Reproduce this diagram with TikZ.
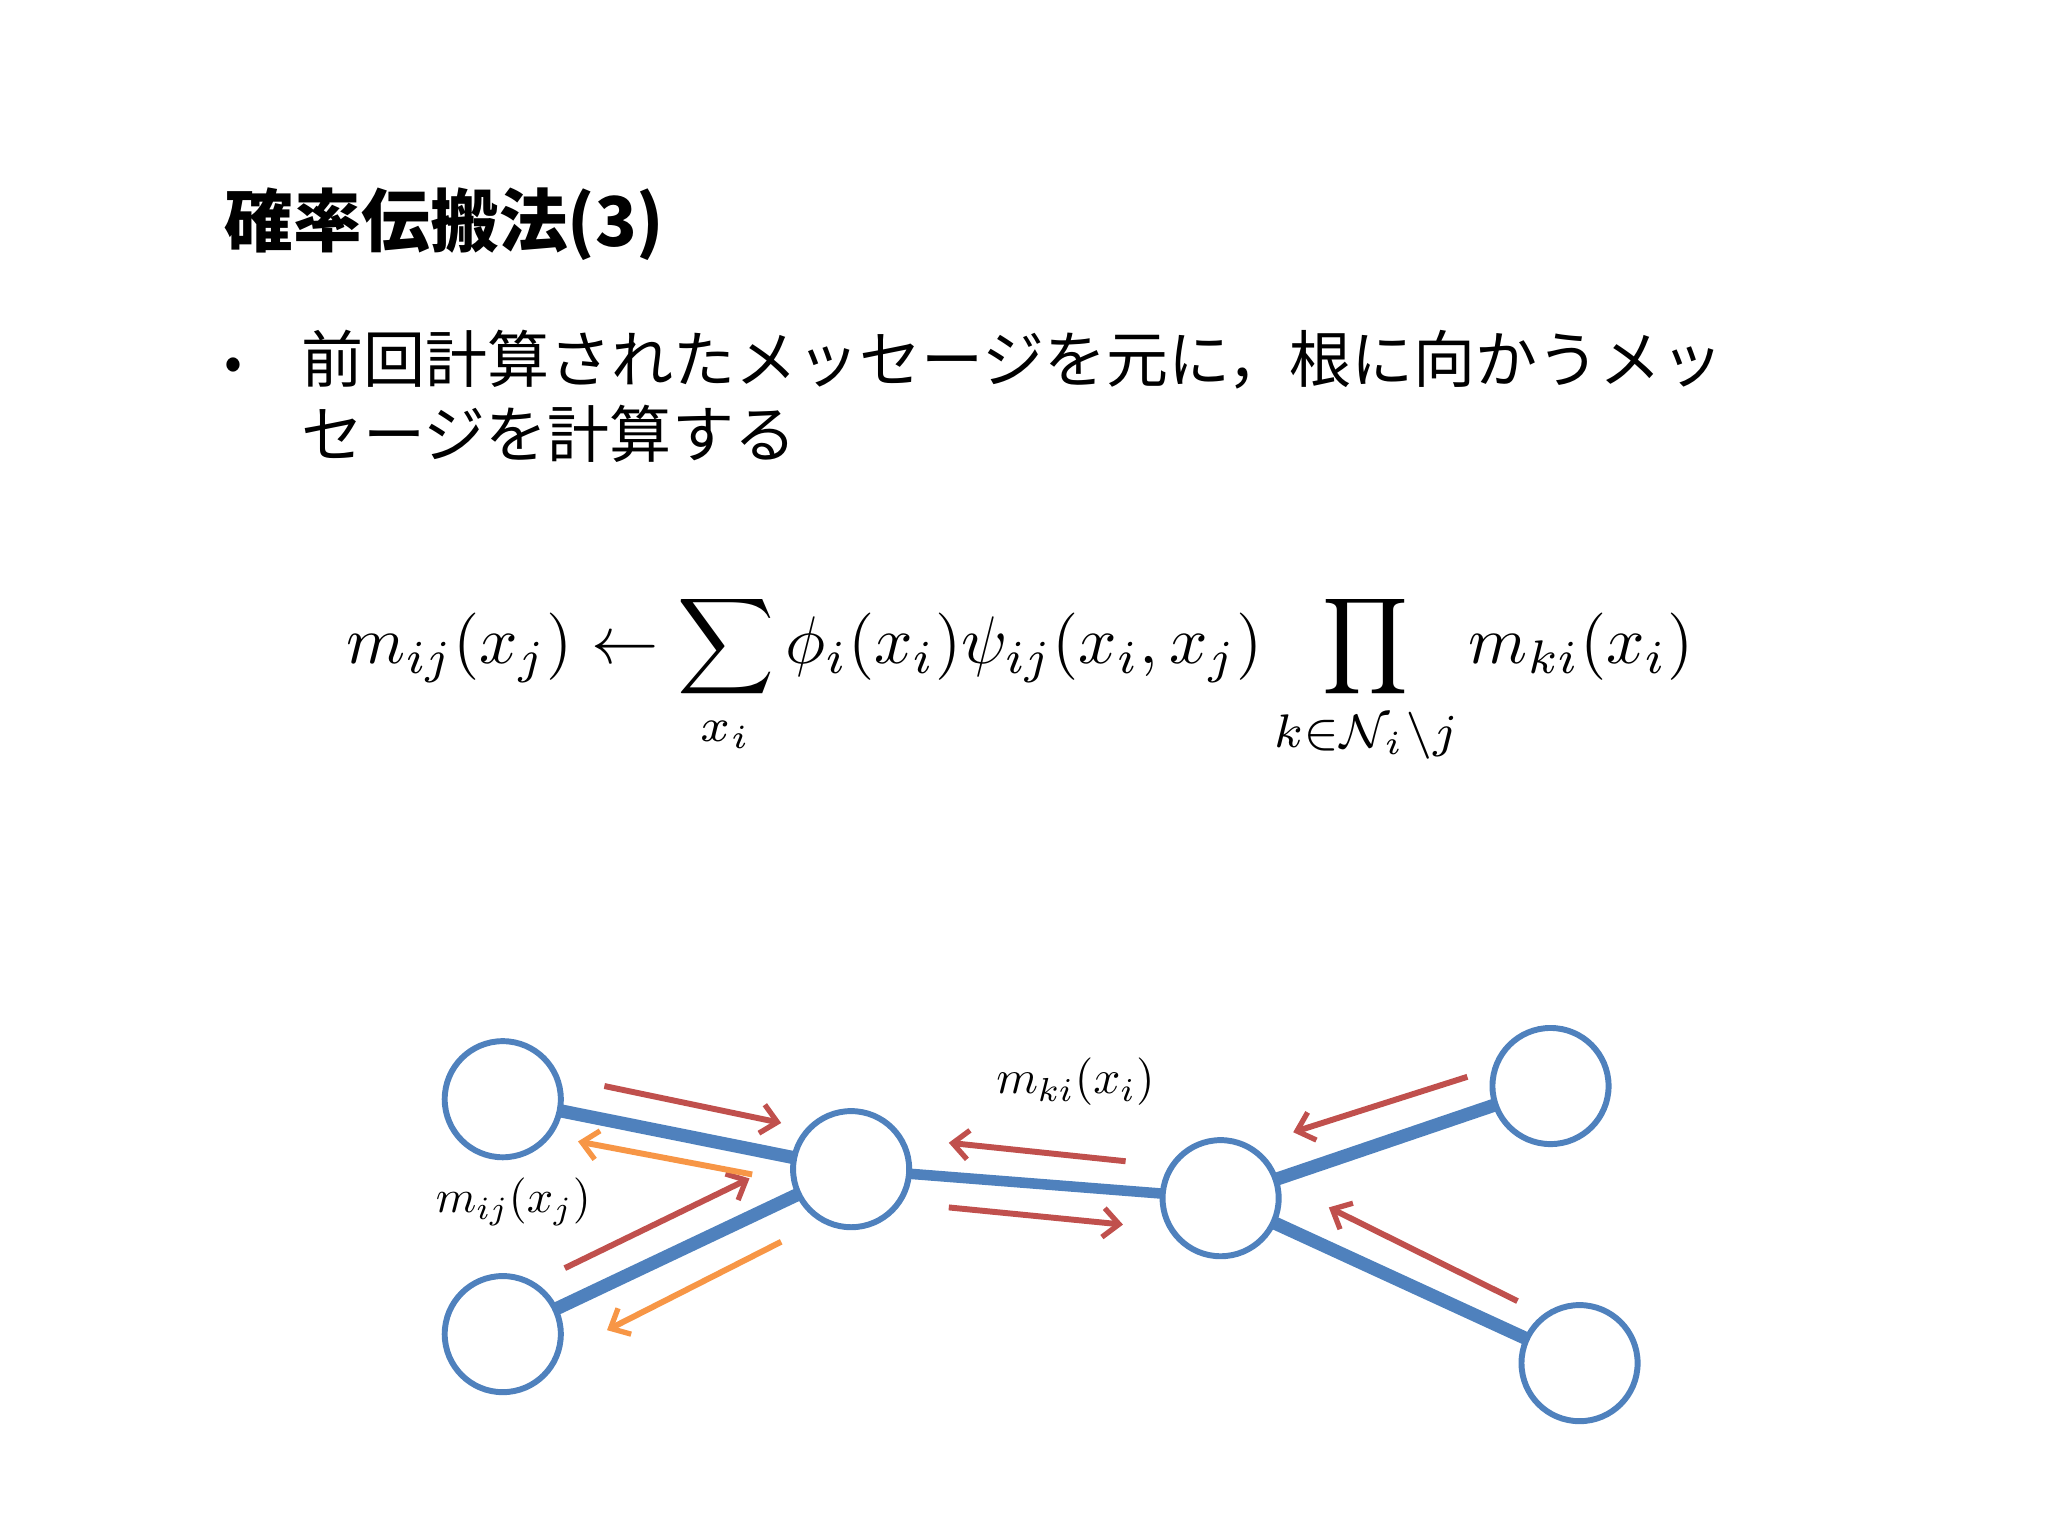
\documentclass[tikz,border=0pt]{standalone}
\usepackage{fontspec}
\usepackage{graphicx}
\newfontfamily\cjk{Noto Sans CJK JP}
\usetikzlibrary{arrows.meta}
\definecolor{nblue}{RGB}{79,129,189}
\definecolor{nred}{RGB}{192,80,77}
\definecolor{norange}{RGB}{247,150,70}
\begin{document}
\begin{tikzpicture}[x=1pt,y=-1pt,
  vert/.style={circle,draw=nblue,line width=4.5pt,fill=white,minimum size=88pt,inner sep=0pt},
  edge/.style={nblue,line width=10pt},
  msg/.style={line width=4.5pt,-{Straight Barb[length=12pt,width=22pt,line width=4pt]}},
  red/.style={msg,nred},
  org/.style={msg,norange}]
\useasboundingbox (0,0) rectangle (1552,1164);
\node[anchor=west,inner sep=0pt] (title) at (170,170) {\fontsize{52}{62}\selectfont\cjk\bfseries 確率伝搬法(3)};
\node[anchor=west,inner sep=0pt] (bul) at (170,280) {\fontsize{40}{48}\selectfont\cjk •};
\node[anchor=north west,inner sep=0pt,align=left,font={\fontsize{47}{57}\selectfont\cjk}] (txt) at (228,250) {前回計算されたメッセージを元に，根に向かうメッ\\セージを計算する};
\node (eq) at (773,515) {\scalebox{5.1}{$\displaystyle m_{ij}(x_j)\leftarrow\sum_{x_i}\phi_i(x_i)\psi_{ij}(x_i,x_j)\prod_{k\in\mathcal{N}_i\backslash j} m_{ki}(x_i)$}};
\begin{scope}[shift={(-5,-7)}]
\coordinate (a) at (386,840); \coordinate (b) at (386,1018); \coordinate (c) at (650,893);
\coordinate (d) at (930,915); \coordinate (e) at (1180,830); \coordinate (f) at (1202,1040);
\draw[edge] (a) -- (c); \draw[edge] (b) -- (c); \draw[edge,line width=8pt] (c) -- (d);
\draw[edge] (d) -- (e); \draw[edge] (d) -- (f);
\foreach \n in {a,b,c,d,e,f} \node[vert] (N\n) at (\n) {};
\coordinate (r1s) at (463,830); \coordinate (r1e) at (597,858);
\coordinate (r2s) at (433,968); \coordinate (r2e) at (573,900);
\coordinate (r3s) at (858,887); \coordinate (r3e) at (724,873);
\coordinate (r4s) at (724,922); \coordinate (r4e) at (856,935);
\coordinate (r5s) at (1117,823); \coordinate (r5e) at (985,865);
\coordinate (r6s) at (1155,993); \coordinate (r6e) at (1012,922);
\coordinate (o1s) at (575,897); \coordinate (o1e) at (443,872);
\coordinate (o2s) at (597,948); \coordinate (o2e) at (465,1015);
\foreach \i in {1,...,6} \draw[red] (r\i s) -- (r\i e);
\draw[org] (o1s) -- (o1e); \draw[org] (o2s) -- (o2e);
\node (l1) at (820,827) {\scalebox{3.6}{$m_{ki}(x_i)$}};
\node (l2) at (394,918) {\scalebox{3.5}{$m_{ij}(x_j)$}};
\end{scope}
\end{tikzpicture}
\end{document}
